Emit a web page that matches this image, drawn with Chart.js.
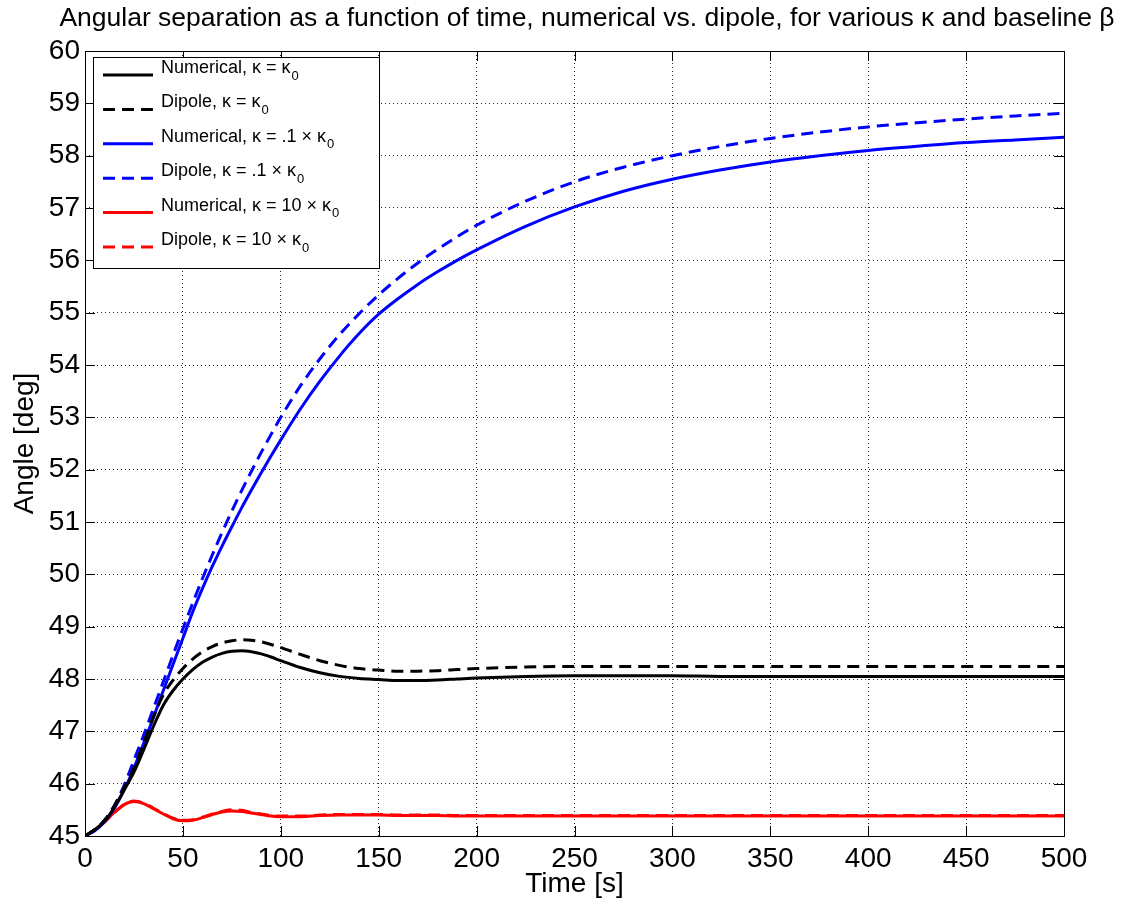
<!DOCTYPE html>
<html>
<head>
<meta charset="utf-8">
<script src="https://cdn.jsdelivr.net/npm/chart.js@4.4.1/dist/chart.umd.min.js"></script>
<style>
  html, body { margin: 0; padding: 0; background: #fff; }
  #wrap { width: 1128px; height: 906px; }
</style>
</head>
<body>
<div id="wrap"><canvas id="c" width="1128" height="906"></canvas></div>
<script>
const FONT = '"Liberation Sans", Arial, Helvetica, sans-serif';

// time samples [s]
const time = [0, 5, 10, 15, 20, 25, 30, 35, 40, 45, 50, 55, 60, 65, 70, 75, 80, 85, 90, 95, 100,
  110, 120, 130, 140, 150, 160, 170, 180, 190, 200, 225, 250, 275, 300, 325, 350, 375, 400, 425, 450, 475, 500];

// angle [deg]
const numK0 = [45, 45.12, 45.28, 45.55, 45.88, 46.22, 46.65, 47.1, 47.5, 47.78, 48.0, 48.18, 48.32, 48.42, 48.49, 48.53, 48.54, 48.52, 48.48, 48.42, 48.35,
  48.22, 48.12, 48.05, 48.01, 47.99, 47.97, 47.97, 47.98, 48.0, 48.02, 48.05, 48.06, 48.06, 48.06, 48.05, 48.05, 48.05, 48.05, 48.05, 48.05, 48.05, 48.05];
const dipK0 = [45, 45.12, 45.3, 45.58, 45.93, 46.3, 46.78, 47.28, 47.7, 47.98, 48.2, 48.38, 48.52, 48.62, 48.69, 48.73, 48.75, 48.74, 48.71, 48.66, 48.6,
  48.47, 48.35, 48.26, 48.2, 48.17, 48.15, 48.15, 48.16, 48.18, 48.2, 48.23, 48.24, 48.24, 48.24, 48.24, 48.24, 48.24, 48.24, 48.24, 48.24, 48.24, 48.24];
const numK01 = [45, 45.1, 45.27, 45.53, 45.88, 46.3, 46.77, 47.27, 47.78, 48.28, 48.78, 49.28, 49.73, 50.15, 50.54, 50.91, 51.27, 51.61, 51.94, 52.26, 52.57,
  53.16, 53.69, 54.17, 54.6, 54.97, 55.27, 55.54, 55.78, 56.0, 56.2, 56.65, 57.02, 57.32, 57.55, 57.73, 57.88, 58.0, 58.1, 58.18, 58.25, 58.3, 58.35];
const dipK01 = [45, 45.12, 45.3, 45.58, 45.97, 46.45, 46.93, 47.44, 47.95, 48.46, 48.96, 49.45, 49.92, 50.37, 50.8, 51.21, 51.6, 51.97, 52.33, 52.67, 53.0,
  53.6, 54.12, 54.58, 54.98, 55.34, 55.66, 55.95, 56.21, 56.45, 56.67, 57.13, 57.5, 57.78, 58.0, 58.18, 58.33, 58.45, 58.55, 58.63, 58.7, 58.76, 58.81];
const numK10 = [45, 45.12, 45.27, 45.45, 45.6, 45.66, 45.62, 45.52, 45.42, 45.33, 45.29, 45.3, 45.35, 45.41, 45.46, 45.48, 45.47, 45.44, 45.41, 45.38, 45.37,
  45.37, 45.39, 45.4, 45.4, 45.4, 45.39, 45.39, 45.39, 45.38, 45.38, 45.38, 45.38, 45.38, 45.38, 45.38, 45.38, 45.38, 45.38, 45.38, 45.38, 45.38, 45.38];
const dipK10 = [45, 45.12, 45.27, 45.45, 45.6, 45.67, 45.63, 45.53, 45.43, 45.34, 45.3, 45.31, 45.36, 45.42, 45.47, 45.5, 45.49, 45.45, 45.42, 45.39, 45.38,
  45.38, 45.4, 45.41, 45.41, 45.41, 45.4, 45.4, 45.4, 45.39, 45.39, 45.39, 45.39, 45.39, 45.39, 45.39, 45.39, 45.39, 45.39, 45.39, 45.39, 45.39, 45.39];

const seriesNames = ['Numerical, κ = κ', 'Dipole, κ = κ', 'Numerical, κ = .1 × κ',
  'Dipole, κ = .1 × κ', 'Numerical, κ = 10 × κ', 'Dipole, κ = 10 × κ'];
const seriesData = [numK0, dipK0, numK01, dipK01, numK10, dipK10];
const seriesColors = ['#000000', '#000000', '#0000ff', '#0000ff', '#ff0000', '#ff0000'];
const seriesDashed = [false, true, false, true, false, true];

const xTicks = [0, 50, 100, 150, 200, 250, 300, 350, 400, 450, 500];
const yTicks = [45, 46, 47, 48, 49, 50, 51, 52, 53, 54, 55, 56, 57, 58, 59, 60];

const titleText = 'Angular separation as a function of time, numerical vs. dipole, for various κ and baseline β';
const DASH = [12, 7];

const datasets = seriesData.map((vals, i) => ({
  label: seriesNames[i],
  data: vals.map((v, j) => ({ x: time[j], y: v })),
  borderColor: seriesColors[i],
  borderWidth: 3,
  borderDash: seriesDashed[i] ? DASH : [],
  pointRadius: 0,
  cubicInterpolationMode: 'monotone',
  fill: false,
}));

// MATLAB style decorations: box, inner ticks, axis titles, legend, title
const matlabBits = {
  id: 'matlabBits',
  afterDraw(chart) {
    const { ctx, chartArea: a, scales: { x, y } } = chart;
    ctx.save();
    ctx.strokeStyle = '#000';
    ctx.lineWidth = 1;
    ctx.setLineDash([]);
    ctx.beginPath();
    xTicks.forEach(v => {
      const px = Math.round(x.getPixelForValue(v)) + 0.5;
      ctx.moveTo(px, a.bottom); ctx.lineTo(px, a.bottom - 10);
      ctx.moveTo(px, a.top); ctx.lineTo(px, a.top + 10);
    });
    yTicks.forEach(v => {
      const py = Math.round(y.getPixelForValue(v)) + 0.5;
      ctx.moveTo(a.left, py); ctx.lineTo(a.left + 10, py);
      ctx.moveTo(a.right, py); ctx.lineTo(a.right - 10, py);
    });
    ctx.stroke();
    ctx.strokeRect(Math.round(a.left) + 0.5, Math.round(a.top) + 0.5, Math.round(a.width), Math.round(a.height));

    // title
    ctx.fillStyle = '#000';
    ctx.font = '26.5px ' + FONT;
    ctx.textAlign = 'center';
    ctx.textBaseline = 'middle';
    ctx.fillText(titleText, 587, 19);

    // axis titles
    ctx.font = '28px ' + FONT;
    ctx.fillText('Time [s]', (a.left + a.right) / 2, 884);
    ctx.save();
    ctx.translate(25, (a.top + a.bottom) / 2);
    ctx.rotate(-Math.PI / 2);
    ctx.fillText('Angle [deg]', 0, 0);
    ctx.restore();

    // legend
    const lx = 93, ly = 57, lw = 286, lh = 211;
    ctx.fillStyle = '#fff';
    ctx.fillRect(lx, ly, lw, lh);
    ctx.strokeStyle = '#000';
    ctx.strokeRect(lx + 0.5, ly + 0.5, lw, lh);
    ctx.textAlign = 'left';
    ctx.textBaseline = 'middle';
    seriesNames.forEach((name, i) => {
      const rowY = 75 + i * 34.4;
      ctx.strokeStyle = seriesColors[i];
      ctx.lineWidth = 3;
      ctx.setLineDash(seriesDashed[i] ? [12, 7] : []);
      ctx.beginPath();
      ctx.moveTo(103, rowY); ctx.lineTo(153, rowY);
      ctx.stroke();
      ctx.setLineDash([]);
      ctx.fillStyle = '#000';
      ctx.font = '18px ' + FONT;
      ctx.fillText(name, 161, rowY - 7);
      const w = ctx.measureText(name).width;
      ctx.font = '13px ' + FONT;
      ctx.fillText('0', 161 + w + 1, rowY + 1);
    });
    ctx.restore();
  }
};

new Chart(document.getElementById('c'), {
  type: 'line',
  data: { datasets },
  options: {
    responsive: false,
    animation: false,
    layout: { padding: { top: 51, right: 64, left: 0, bottom: 0 } },
    plugins: { legend: { display: false }, title: { display: false }, tooltip: { enabled: false } },
    scales: {
      x: {
        type: 'linear', min: 0, max: 500,
        afterFit: s => { s.height = 70; },
        afterBuildTicks: s => { s.ticks = xTicks.map(v => ({ value: v })); },
        ticks: { color: '#000', font: { family: FONT, size: 28 }, padding: 6, maxRotation: 0 },
        grid: { color: 'rgba(0,0,0,0.85)', lineWidth: 1, drawTicks: false },
        border: { display: false, dash: [1, 3] },
      },
      y: {
        type: 'linear', min: 45, max: 60,
        afterFit: s => { s.width = 85; },
        afterBuildTicks: s => { s.ticks = yTicks.map(v => ({ value: v })); },
        ticks: { color: '#000', font: { family: FONT, size: 28 }, padding: 5 },
        grid: { color: 'rgba(0,0,0,0.85)', lineWidth: 1, drawTicks: false },
        border: { display: false, dash: [1, 3] },
      },
    },
  },
  plugins: [matlabBits],
});
</script>
</body>
</html>
